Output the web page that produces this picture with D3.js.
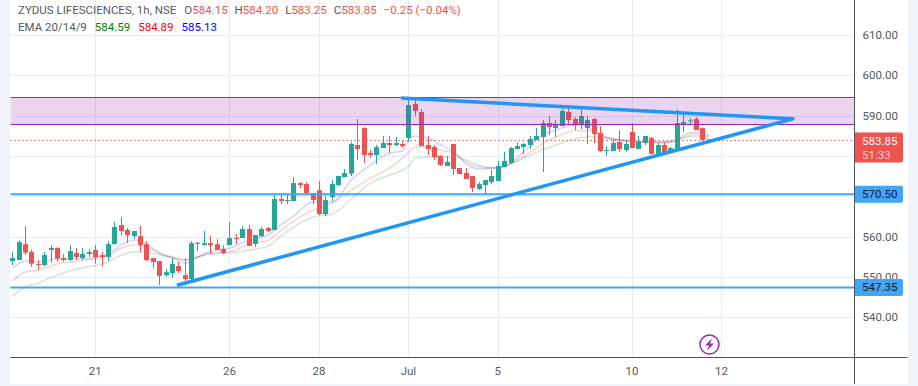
<!DOCTYPE html>
<html>
<head>
<meta charset="utf-8">
<script src="https://cdn.jsdelivr.net/npm/d3@7"></script>
<style>
    html, body { margin: 0; padding: 0; background: #fff; overflow: hidden; }
    svg { display: block; }
    text { font-family: Roboto, "Liberation Sans", Arial, sans-serif; font-size: 11.5px; }
</style>
</head>
<body>
<script>
// hourly candles
const opens = [553.9,554.15,558.1,556.15,553.15,552.9,556.65,557.15,554.65,554.15,555.9,554.65,555.65,556.65,555.4,554.9,558.1,562.85,561.6,560.1,560.1,558.1,554.65,553.9,550.4,550.9,552.65,550.4,549.45,558.2,557.85,558.35,558.1,556.9,557.85,559.65,559.65,561.85,558.15,560.1,562.1,561.6,569.3,568.8,568.8,573.25,573,570.8,571.5,565.55,569.8,572.75,574.75,575.6,582.7,586.9,580.7,580.2,581.95,583.2,582.7,582.95,584.45,592.9,590.9,582.7,582.2,580,577.5,582.95,577,575.75,575,571.8,572.75,573.5,573.75,577.25,578.25,581.7,582.2,582.7,583.95,584.7,588.15,586.9,587.4,590.9,589.15,587.65,586.9,589.15,585.7,581.2,581.2,583.45,581.45,585.95,581.7,583.2,584.45,580.45,582.7,580.95,581.45,587.65,588.65,589.15,586.9,584.15];
const highs = [556.2,559.1,562.6,556.65,554.15,556.15,557.85,557.35,555.65,557.85,557.15,557.15,556.9,557.85,556.15,558.85,563.6,564.8,562.1,561.35,562.6,558.85,554.65,553.9,551.9,554.65,553.65,554.65,558.85,558.6,561.35,560.1,559.35,557.85,563.6,560.6,562.6,562.85,560.35,562.35,562.35,570.55,570.8,570.3,574.75,573.5,573.5,570.8,573.75,570.05,574,575,576.75,583.45,589.15,587.15,581.45,582.7,584.95,584.95,584.7,583.7,593.85,594.35,591.65,584.95,582.7,580.2,580,582.95,577,577,575,573.5,574,576.5,578.75,581,582.2,583.45,583.2,584.95,586.9,588.9,589.9,588.9,591.9,591.9,589.65,591.65,589.9,589.4,587.4,582.45,583.95,586.4,583.7,588.15,584.95,584.95,584.7,583.2,583.45,582.2,591.65,590.4,589.4,589.65,587.15,584.2];
const lows = [552.9,554.15,555.4,552.5,551.85,552.65,553.5,553.75,553.75,553.9,554.15,554.15,554.9,553.25,552.5,553.9,558.1,560.35,558.35,559.35,556.15,553.9,552.15,547.95,550,549.7,550.9,547.95,549.2,556.4,557.85,555.65,556.65,555.65,557.85,558.15,559.65,557.65,557.4,559.85,561.1,561.6,568.05,568.05,568.8,572,570.55,568.05,565.3,565.05,568.8,572.5,574.75,575,579,578.25,579.5,578,581.95,580.7,582.45,581.95,583.45,589.9,582.45,580.2,579,577.5,577.5,575.25,575.5,574.25,571,571.55,570.55,573,573.75,577.25,578,581.7,580.45,581.7,583.95,576,585.2,584.7,587.4,587.9,586.4,586.65,582.95,583.2,581,580,581.2,581,581,581.95,581.7,582.7,580.45,580.2,580.2,580.7,581.45,585.95,587.9,586.4,583.95,583.25];
const closes = [554.65,558.6,556,553.25,552.9,555.4,557.15,554.5,554.15,556.4,554.9,555.65,556.15,554.9,554.9,558.1,562.35,561.35,560.35,561.35,557.85,554.15,553.65,550.2,551.15,553.15,551.4,549.45,558.35,558.45,558.35,557.85,556.65,555.9,559.6,559.4,561.85,557.65,560.35,561.85,561.35,569.3,568.8,569.05,573.25,572.75,570.8,569.05,565.55,569.05,573,575,575.75,582.95,581.7,580.2,580.2,582.2,583.2,582.7,583.2,582.45,592.6,591.15,582.45,581.7,579.7,577.75,578.5,576.75,575.5,574.25,572.05,573,574,575,577.5,578.75,581.95,582.45,582.95,584.2,584.95,588.15,587.15,587.9,591.15,588.9,587.65,589.9,588.9,585.45,581.2,581.45,583.2,581.7,582.95,581.95,583.45,584.95,580.45,582.7,580.95,581.95,588.15,588.4,588.8,586.4,583.95,583.85];

// EMA readings at these candle positions
const emaIdx = [0,2,4,7,10,13,15,17,19,21,23,25,27,29,31,34,37,40,42,44,47,50,53,56,59,61,62,63,65,67,69,71,73,75,77,79,81,83,85,87,89,91,93,96,99,102,104,105,107,109];
const ema9 = [552.2,553.9,553.7,554.4,554.4,554.8,555.65,557.9,559.15,558.15,555.8,554.65,553.4,554.9,556.4,557.15,559.15,560.4,562.85,565.1,568.55,568.55,574,577.75,580.7,581.2,583.95,584.95,584.45,582.7,581.05,578,576.75,576.85,577.25,579.7,582.45,585.2,586.4,587.4,587.65,586.2,584.45,583.8,583.45,583.2,583.95,585.2,585.95,585.13];
const ema14 = [549,551.2,551.7,553.2,553.8,554.55,555.15,557.15,557.9,557.4,555.9,554.9,554.15,555.05,555.9,556.25,558.15,559,561.6,563.85,566.55,568.3,571.55,574.5,577,579.45,580.95,582.2,582.3,581.45,580.7,578.5,577.25,577,577.5,579,580.85,583.2,584.7,585.95,586.4,585.95,584.7,583.85,583.5,583.3,583.85,584.7,585.45,584.89];
const ema20 = [545.25,547.45,548.45,550.45,551.95,552.8,553.7,555.4,556.15,556.15,555.4,554.8,554.15,554.9,555.65,555.9,556.65,557.65,560.15,562.35,564.85,565.6,569.3,573.3,575.25,576.5,577.5,579.45,579.7,579.8,579.7,579,577.6,577.15,577.5,578.75,580.2,581.6,582.7,583.8,584.55,584.75,584.3,583.85,583.5,583.5,584.1,584.45,584.95,584.59];

// trend lines: upper start, apex, lower start
const trendIdx = [60.8, 122.1, 25.7];
const trendPrice = [594.35, 589.2, 547.9];

const zonePrices = [594.55, 587.85];
const levelPrices = [570.50, 547.35];
const lastPrice = 583.85;
const countdown = "51:33";

const priceTicks = [540, 550, 560, 570, 580, 590, 600, 610];
// 570 and 580 are hidden behind the price labels
const priceTickLabels = [540, 550, 560, 590, 600, 610];
const timeTickIdx = [13, 34, 48, 62, 76, 97, 111];
const timeTickLabels = ["21", "26", "28", "Jul", "5", "10", "12"];

const upColor = "#26a69a";
const downColor = "#ef5350";
const lineBlue = "#2196f3";
const levelBlue = "#42a5f5";
const purple = "#9c27b0";
const gridColor = "#e4ebf3";
const axisColor = "#50535e";
const textColor = "#555962";
const stripColor = "#f0f3fa";

const width = 918;
const height = 386;
const plot = { left: 10.5, right: 854.5, top: 0, bottom: 357.5 };

let svg = d3.select("body").append("svg")
    .attr("width", width)
    .attr("height", height)
    .attr("viewBox", `0 0 ${width} ${height}`);

let x = d3.scaleLinear().domain([0, 109]).range([12.67, 709.2]);
let y = d3.scaleLinear().domain([530, 610]).range([357.4, 35]);

// outer pale frame
svg.append("rect").attr("x", 0).attr("y", 0).attr("width", 10).attr("height", height).attr("fill", stripColor);
svg.append("rect").attr("x", 908).attr("y", 0).attr("width", 10).attr("height", height).attr("fill", stripColor);
svg.append("rect").attr("x", 0).attr("y", 384).attr("width", width).attr("height", 2).attr("fill", stripColor);

// Grid
let grid = svg.append("g");
grid.selectAll("line.h")
    .data(priceTicks)
    .enter().append("line")
    .attr("class", "h")
    .attr("x1", plot.left)
    .attr("x2", plot.right)
    .attr("y1", d => Math.round(y(d)) + 0.5)
    .attr("y2", d => Math.round(y(d)) + 0.5)
    .attr("stroke", gridColor);
grid.selectAll("line.v")
    .data(timeTickIdx)
    .enter().append("line")
    .attr("class", "v")
    .attr("x1", d => Math.floor(x(d)) + 0.5)
    .attr("x2", d => Math.floor(x(d)) + 0.5)
    .attr("y1", plot.top)
    .attr("y2", plot.bottom)
    .attr("stroke", gridColor);

// EMA lines sit under the candles
let emaLine = d3.line()
    .x((d, i) => x(emaIdx[i]))
    .y(d => y(d))
    .curve(d3.curveMonotoneX);
[[ema20, "green"], [ema14, "red"], [ema9, "blue"]].forEach(([values, color]) => {
    svg.append("path")
        .attr("d", emaLine(values))
        .attr("fill", "none")
        .attr("stroke", color)
        .attr("stroke-opacity", 0.18)
        .attr("stroke-width", 1.5);
});

// Candles
let candles = svg.append("g").selectAll("g")
    .data(d3.range(opens.length))
    .enter().append("g")
    .attr("fill", i => closes[i] >= opens[i] ? upColor : downColor);
candles.append("rect")
    .attr("x", i => Math.floor(x(i)))
    .attr("width", 1)
    .attr("y", i => y(highs[i]))
    .attr("height", i => y(lows[i]) - y(highs[i]));
candles.append("rect")
    .attr("x", i => Math.floor(x(i)) - 2)
    .attr("width", 5)
    .attr("y", i => y(Math.max(opens[i], closes[i])))
    .attr("height", i => Math.max(1, Math.abs(y(opens[i]) - y(closes[i]))));

// Supply zone
svg.append("rect")
    .attr("x", plot.left)
    .attr("width", plot.right - plot.left)
    .attr("y", y(zonePrices[0]))
    .attr("height", y(zonePrices[1]) - y(zonePrices[0]))
    .attr("fill", purple)
    .attr("fill-opacity", 0.2);
svg.selectAll("line.zone")
    .data(zonePrices)
    .enter().append("line")
    .attr("class", "zone")
    .attr("x1", plot.left)
    .attr("x2", plot.right)
    .attr("y1", d => Math.round(y(d)) + 0.5)
    .attr("y2", d => Math.round(y(d)) + 0.5)
    .attr("stroke", purple);

// Last price
svg.append("line")
    .attr("x1", plot.left)
    .attr("x2", plot.right)
    .attr("y1", Math.round(y(lastPrice)) + 0.5)
    .attr("y2", Math.round(y(lastPrice)) + 0.5)
    .attr("stroke", downColor)
    .attr("stroke-dasharray", "1.5 2.5");

// Horizontal levels
svg.selectAll("line.level")
    .data(levelPrices)
    .enter().append("line")
    .attr("class", "level")
    .attr("x1", plot.left)
    .attr("x2", plot.right)
    .attr("y1", d => y(d))
    .attr("y2", d => y(d))
    .attr("stroke", levelBlue)
    .attr("stroke-width", 2);

// Triangle
let trendLine = d3.line()
    .x((d, i) => x(trendIdx[i]))
    .y(d => y(d));
svg.append("path")
    .attr("d", trendLine(trendPrice))
    .attr("fill", "none")
    .attr("stroke", lineBlue)
    .attr("stroke-width", 3.5)
    .attr("stroke-linejoin", "round");

// Axes
let yAxis = d3.axisRight(y)
    .tickValues(priceTickLabels)
    .tickFormat(d => d.toFixed(2))
    .tickSize(0)
    .tickPadding(8);
let yAxisG = svg.append("g")
    .attr("transform", `translate(${plot.right}, 0)`)
    .call(yAxis);
yAxisG.select(".domain").remove();

let xAxis = d3.axisBottom(x)
    .tickValues(timeTickIdx)
    .tickFormat((d, i) => timeTickLabels[i])
    .tickSize(0)
    .tickPadding(9);
let xAxisG = svg.append("g")
    .attr("transform", `translate(-1, ${plot.bottom})`)
    .call(xAxis);
xAxisG.select(".domain").remove();

[yAxisG, xAxisG].forEach(g => g.selectAll("text")
    .attr("fill", textColor)
    .style("font-family", "Roboto, 'Liberation Sans', Arial, sans-serif")
    .style("font-size", "11.5px"));

svg.append("path")
    .attr("d", `M${plot.left},${plot.bottom}H907.5`)
    .attr("stroke", axisColor);
svg.append("path")
    .attr("d", `M${plot.right},0V384`)
    .attr("stroke", axisColor);

// Price labels on the axis, these cover the ticks underneath
function priceLabel(price, fill, labelHeight) {
    let cy = y(price);
    svg.append("path")
        .attr("d", `M855,${cy - labelHeight / 2}h46a2,2 0 0 1 2,2v${labelHeight - 4}a2,2 0 0 1 -2,2h-46z`)
        .attr("fill", fill);
}
levelPrices.forEach(p => {
    priceLabel(p, levelBlue, 17);
    svg.append("text")
        .attr("x", 862)
        .attr("y", y(p) + 4)
        .attr("fill", "#131722")
        .text(p.toFixed(2));
});
svg.append("path")
    .attr("d", "M855,132.5h46a2,2 0 0 1 2,2v26a2,2 0 0 1 -2,2h-46z")
    .attr("fill", downColor);
svg.append("text").attr("x", 862).attr("y", 145).attr("fill", "#fff").text(lastPrice.toFixed(2));
svg.append("text").attr("x", 862).attr("y", 159).attr("fill", "#fff").attr("fill-opacity", 0.7).text(countdown);

// Header
function legendRow(rowY, parts) {
    let row = svg.append("text").attr("x", 18).attr("y", rowY);
    parts.forEach(([txt, fill, gap]) => {
        row.append("tspan").attr("dx", gap || 0).attr("fill", fill).text(txt);
    });
}
legendRow(14, [
    ["ZYDUS LIFESCIENCES, 1h, NSE", textColor],
    ["O", textColor, 8], ["584.15", downColor],
    ["H", textColor, 7], ["584.20", downColor],
    ["L", textColor, 7], ["583.25", downColor],
    ["C", textColor, 7], ["583.85", downColor],
    ["\u22120.25 (\u22120.04%)", downColor, 7]
]);
legendRow(31, [
    ["EMA 20/14/9", textColor],
    ["584.59", "#008000", 8],
    ["584.89", "#ff0000", 8],
    ["585.13", "#0000ff", 8]
]);

// Lightning badge
let badge = svg.append("g").attr("transform", "translate(709.5, 344.5)");
badge.append("circle")
    .attr("r", 9.5)
    .attr("fill", "#fff")
    .attr("stroke", purple)
    .attr("stroke-width", 1.5);
badge.append("path")
    .attr("d", "M2.5,-6L-4.5,1H-0.5L-2.5,6L4.5,-1H0.5Z")
    .attr("fill", purple);
</script>
</body>
</html>
